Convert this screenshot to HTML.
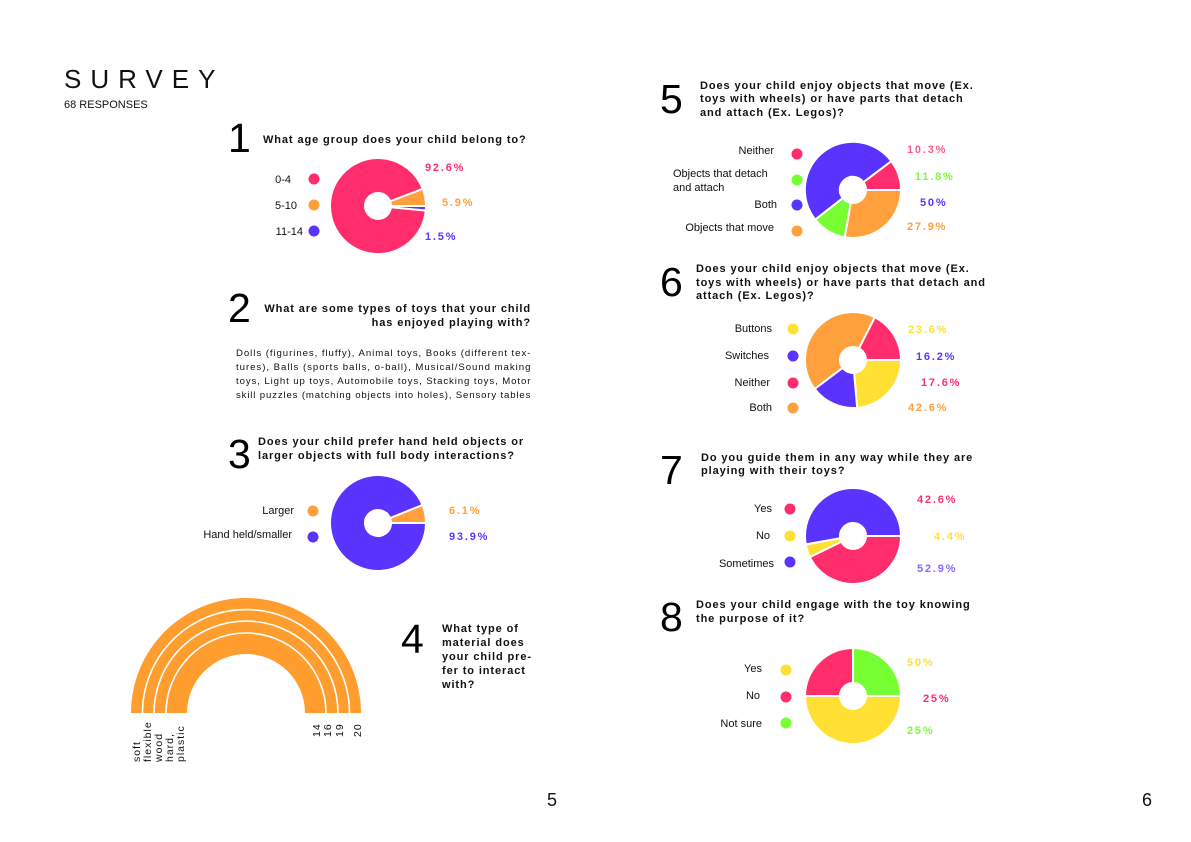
<!DOCTYPE html>
<html><head><meta charset="utf-8">
<style>
html,body{margin:0;padding:0;background:#fff;}
svg{display:block;}
text{font-family:"Liberation Sans",Arial,sans-serif;}
.q{font-size:11px;font-weight:bold;letter-spacing:0.9px;fill:#111;}
.n{font-size:41px;fill:#000;}
.l{font-size:11px;fill:#111;}
.p{font-size:11px;font-weight:bold;letter-spacing:1.8px;}
.b{font-size:9.6px;fill:#111;letter-spacing:0.6px;}
</style></head><body>
<svg id="s" width="1191" height="842" viewBox="0 0 1191 842" xmlns="http://www.w3.org/2000/svg">
<text x="64" y="88" style="font-size:26px;letter-spacing:9px;fill:#111">SURVEY</text>
<text x="64" y="108" style="font-size:11px;fill:#111">68 RESPONSES</text>

<!-- 1 -->
<text class="n" x="228" y="152">1</text>
<text class="q" x="263" y="143">What age group does your child belong to?</text>
<text class="l" x="291" y="183" text-anchor="end">0-4</text>
<text class="l" x="297" y="209" text-anchor="end">5-10</text>
<text class="l" x="303" y="235" text-anchor="end">11-14</text>
<circle cx="314" cy="179" r="5.5" fill="#ff2d6b"/>
<circle cx="314" cy="205" r="5.5" fill="#ffa03c"/>
<circle cx="314" cy="231" r="5.5" fill="#5a33ff"/>
<text class="p" x="425" y="171" fill="#ff2d6b">92.6%</text>
<text class="p" x="442" y="206" fill="#ffa03c">5.9%</text>
<text class="p" x="425" y="240" fill="#5a33ff">1.5%</text>

<!-- 2 -->
<text class="n" x="228" y="322">2</text>
<text class="q" x="531" y="312" text-anchor="end">What are some types of toys that your child</text>
<text class="q" x="531" y="326" text-anchor="end">has enjoyed playing with?</text>
<text class="b" x="236" y="356" textLength="295" lengthAdjust="spacing">Dolls (figurines, fluffy), Animal toys, Books (different tex-</text>
<text class="b" x="236" y="370" textLength="295" lengthAdjust="spacing">tures), Balls (sports balls, o-ball), Musical/Sound making</text>
<text class="b" x="236" y="384" textLength="295" lengthAdjust="spacing">toys, Light up toys, Automobile toys, Stacking toys, Motor</text>
<text class="b" x="236" y="398" textLength="295" lengthAdjust="spacing">skill puzzles (matching objects into holes), Sensory tables</text>

<!-- 3 -->
<text class="n" x="228" y="468">3</text>
<text class="q" x="258" y="445">Does your child prefer hand held objects or</text>
<text class="q" x="258" y="459">larger objects with full body interactions?</text>
<text class="l" x="294" y="514" text-anchor="end">Larger</text>
<text class="l" x="292" y="538" text-anchor="end">Hand held/smaller</text>
<circle cx="313" cy="511" r="5.5" fill="#ffa03c"/>
<circle cx="313" cy="537" r="5.5" fill="#5a33ff"/>
<text class="p" x="449" y="514" fill="#ffa03c">6.1%</text>
<text class="p" x="449" y="540" fill="#5a33ff">93.9%</text>

<!-- 4 -->
<text class="n" x="401" y="653">4</text>
<text class="q" x="442" y="632">What  type  of</text>
<text class="q" x="442" y="646">material   does</text>
<text class="q" x="442" y="660">your child pre-</text>
<text class="q" x="442" y="674">fer to interact</text>
<text class="q" x="442" y="688">with?</text>
<path fill="#ff9d2e" d="M131 713 A115 115 0 0 1 361 713 L305 713 A59 59 0 0 0 187 713 Z"/>
<g fill="none" stroke="#fff" stroke-width="1.6">
<path d="M142.5 713 A103.5 103.5 0 0 1 349.5 713"/>
<path d="M154 713 A92 92 0 0 1 338 713"/>
<path d="M166 713 A80 80 0 0 1 326 713"/>
</g>
<g class="l" style="font-size:10.5px;letter-spacing:1px">
<text transform="translate(140,762) rotate(-90)">soft</text>
<text transform="translate(151,762) rotate(-90)">flexible</text>
<text transform="translate(162,762) rotate(-90)">wood</text>
<text transform="translate(173,762) rotate(-90)">hard,</text>
<text transform="translate(184,762) rotate(-90)">plastic</text>
<text transform="translate(320,737) rotate(-90)">14</text>
<text transform="translate(331,737) rotate(-90)">16</text>
<text transform="translate(343,737) rotate(-90)">19</text>
<text transform="translate(361,737) rotate(-90)">20</text>
</g>

<!-- 5 -->
<text class="n" x="660" y="113">5</text>
<text class="q" x="700" y="89">Does your child enjoy objects that move (Ex.</text>
<text class="q" x="700" y="102">toys with wheels) or have parts that detach</text>
<text class="q" x="700" y="116">and attach (Ex. Legos)?</text>
<text class="l" x="774" y="154" text-anchor="end">Neither</text>
<text class="l" x="673" y="177">Objects that detach</text>
<text class="l" x="673" y="191">and attach</text>
<text class="l" x="777" y="208" text-anchor="end">Both</text>
<text class="l" x="774" y="231" text-anchor="end">Objects that move</text>
<circle cx="797" cy="154" r="5.5" fill="#ff2d6b"/>
<circle cx="797" cy="180" r="5.5" fill="#77ff33"/>
<circle cx="797" cy="205" r="5.5" fill="#5a33ff"/>
<circle cx="797" cy="231" r="5.5" fill="#ffa03c"/>
<text class="p" x="907" y="153" fill="#ff5c8a">10.3%</text>
<text class="p" x="915" y="180" fill="#77ff33">11.8%</text>
<text class="p" x="920" y="206" fill="#5a33ff">50%</text>
<text class="p" x="907" y="230" fill="#ffa03c">27.9%</text>

<!-- 6 -->
<text class="n" x="660" y="296">6</text>
<text class="q" x="696" y="272">Does your child enjoy objects that move (Ex.</text>
<text class="q" x="696" y="286">toys with wheels) or have parts that detach and</text>
<text class="q" x="696" y="299">attach (Ex. Legos)?</text>
<text class="l" x="772" y="332" text-anchor="end">Buttons</text>
<text class="l" x="769" y="359" text-anchor="end">Switches</text>
<text class="l" x="770" y="386" text-anchor="end">Neither</text>
<text class="l" x="772" y="411" text-anchor="end">Both</text>
<circle cx="793" cy="329" r="5.5" fill="#ffe033"/>
<circle cx="793" cy="356" r="5.5" fill="#5a33ff"/>
<circle cx="793" cy="383" r="5.5" fill="#ff2d6b"/>
<circle cx="793" cy="408" r="5.5" fill="#ffa03c"/>
<text class="p" x="908" y="333" fill="#ffe033">23.6%</text>
<text class="p" x="916" y="360" fill="#5a33ff">16.2%</text>
<text class="p" x="921" y="386" fill="#ff2d6b">17.6%</text>
<text class="p" x="908" y="411" fill="#ffa03c">42.6%</text>

<!-- 7 -->
<text class="n" x="660" y="484">7</text>
<text class="q" x="701" y="461">Do you guide them in any way while they are</text>
<text class="q" x="701" y="474">playing with their toys?</text>
<text class="l" x="772" y="512" text-anchor="end">Yes</text>
<text class="l" x="770" y="539" text-anchor="end">No</text>
<text class="l" x="774" y="567" text-anchor="end">Sometimes</text>
<circle cx="790" cy="509" r="5.5" fill="#ff2d6b"/>
<circle cx="790" cy="536" r="5.5" fill="#ffe033"/>
<circle cx="790" cy="562" r="5.5" fill="#5a33ff"/>
<text class="p" x="917" y="503" fill="#ff2d6b">42.6%</text>
<text class="p" x="934" y="540" fill="#ffe033">4.4%</text>
<text class="p" x="917" y="572" fill="#8a66ff">52.9%</text>

<!-- 8 -->
<text class="n" x="660" y="631">8</text>
<text class="q" x="696" y="608">Does your child engage with the toy knowing</text>
<text class="q" x="696" y="622">the purpose of it?</text>
<text class="l" x="762" y="672" text-anchor="end">Yes</text>
<text class="l" x="760" y="699" text-anchor="end">No</text>
<text class="l" x="762" y="727" text-anchor="end">Not sure</text>
<circle cx="786" cy="670" r="5.5" fill="#ffe033"/>
<circle cx="786" cy="697" r="5.5" fill="#ff2d6b"/>
<circle cx="786" cy="723" r="5.5" fill="#77ff33"/>
<text class="p" x="907" y="666" fill="#ffe033">50%</text>
<text class="p" x="923" y="702" fill="#ff2d6b">25%</text>
<text class="p" x="907" y="734" fill="#77ff33">25%</text>

<text x="547" y="806" style="font-size:18px;fill:#111">5</text>
<text x="1142" y="806" style="font-size:18px;fill:#111">6</text>
<g id="pies"></g>
</svg>
<script>
function arc(cx,cy,r,ri,a0,a1,c){
 var d=Math.PI/180,l=(a1-a0)>180?1:0;
 function p(r,a){return (cx+r*Math.cos(a*d)).toFixed(2)+' '+(cy+r*Math.sin(a*d)).toFixed(2);}
 return '<path fill="'+c+'" stroke="#fff" stroke-width="2" d="M'+p(r,a0)+' A'+r+' '+r+' 0 '+l+' 1 '+p(r,a1)+' L'+p(ri,a1)+' A'+ri+' '+ri+' 0 '+l+' 0 '+p(ri,a0)+' Z"/>';
}
var R='#ff2d6b',O='#ffa03c',P='#5a33ff',Y='#ffe033',G='#77ff33';
var pies=[
 [378,206,[[5.4,360,R],[0,5.4,P],[-21,0,O]]],
 [378,523,[[0,338,P],[-22,0,O]]],
 [853,190,[[-37,0,R],[0,100,O],[100,142,G],[142,323,P]]],
 [853,360,[[-63,0,R],[0,85,Y],[85,143,P],[143,297,O]]],
 [853,536,[[0,154,R],[154,170,Y],[170,360,P]]],
 [853,696,[[-90,0,G],[-180,-90,R],[0,180,Y]]]
];
var h='';
pies.forEach(function(q){q[2].forEach(function(s){h+=arc(q[0],q[1],48,13,s[0],s[1],s[2]);});});
document.getElementById('pies').innerHTML=h;
document.getElementById('pies').outerHTML=document.getElementById('pies').outerHTML;
</script>
</body></html>
